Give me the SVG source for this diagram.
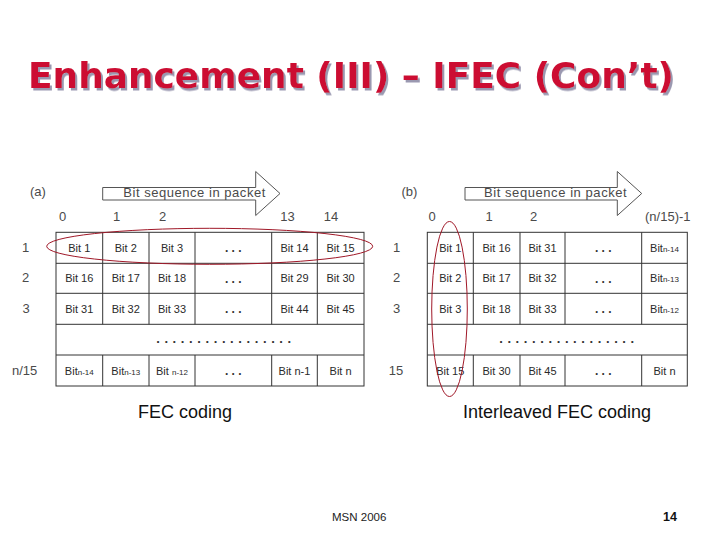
<svg xmlns="http://www.w3.org/2000/svg" width="720" height="540" viewBox="0 0 720 540">
<defs>
<filter id="shadow" x="-5%" y="-20%" width="110%" height="150%">
<feDropShadow dx="2" dy="2.5" stdDeviation="0.6" flood-color="#9a98b0" flood-opacity="1"/>
</filter>
</defs>
<style>
.title{font-family:"Comic Sans MS","DejaVu Sans",sans-serif;font-weight:bold;font-size:36px}
.cell{font-family:"Liberation Sans",Arial,sans-serif;font-size:11px;fill:#2a2a2a;text-anchor:middle}
.sub{font-size:8px}
.lab{font-family:"Liberation Sans",Arial,sans-serif;font-size:13px;fill:#4a4a4a}
.mid{text-anchor:middle}
.cap{font-family:"Liberation Sans",Arial,sans-serif;font-size:18px;fill:#111}
.grid{fill:none;stroke:#333;stroke-width:1}
.arrow{fill:#fff;stroke:#555;stroke-width:1}
.ring{fill:none;stroke:#a01828;stroke-width:1}
.dots{font-family:"Liberation Sans",Arial,sans-serif;font-size:13px;font-weight:bold;fill:#333;text-anchor:middle;letter-spacing:4.6px}
.ell{font-family:"Liberation Sans",Arial,sans-serif;font-size:12px;font-weight:bold;fill:#333;text-anchor:middle}
</style>
<rect width="720" height="540" fill="#fff"/>
<g id="title">
<text class="title" x="28" y="88" fill="#cc1133" filter="url(#shadow)" textLength="646" lengthAdjust="spacingAndGlyphs">Enhancement (III) – IFEC (Con’t)</text>
</g>
<g id="arrows">
<polygon id="arrow-a" class="arrow" points="102.7,187.5 255.7,187.5 255.7,171.5 280,193.5 255.7,215.5 255.7,200 102.7,200"/>
<text class="lab" x="123.3" y="197" textLength="142" lengthAdjust="spacing">Bit sequence in packet</text>
<polygon id="arrow-b" class="arrow" points="465,187.5 617.3,187.5 617.3,171.5 641.7,193.5 617.3,215.5 617.3,200 465,200"/>
<text class="lab" x="484" y="197" textLength="142.7" lengthAdjust="spacing">Bit sequence in packet</text>
</g>
<g id="table-a">
<text class="lab" x="30" y="196">(a)</text>
<text class="lab mid" x="62.5" y="221">0</text>
<text class="lab mid" x="116.5" y="221">1</text>
<text class="lab mid" x="162.5" y="221">2</text>
<text class="lab mid" x="287.5" y="221">13</text>
<text class="lab mid" x="331" y="221">14</text>
<text class="lab mid" x="25.5" y="251.5">1</text>
<text class="lab mid" x="25.5" y="282">2</text>
<text class="lab mid" x="26" y="312.5">3</text>
<text class="lab" x="12" y="375">n/15</text>
<rect class="grid" x="56" y="232.3" width="308" height="153.7"/>
<path class="grid" d="M56,263.3H364M56,293.3H364M56,324.3H364M56,355H364M102.7,232.3V324.3M149,232.3V324.3M195,232.3V324.3M271.7,232.3V324.3M317.3,232.3V324.3M102.7,355V386M149,355V386M195,355V386M271.7,355V386M317.3,355V386"/>
<text class="cell" x="79.3" y="251.5">Bit 1</text>
<text class="cell" x="125.8" y="251.5">Bit 2</text>
<text class="cell" x="172" y="251.5">Bit 3</text>
<text class="ell" x="233.3" y="252">. . .</text>
<text class="cell" x="294.5" y="251.5">Bit 14</text>
<text class="cell" x="340.6" y="251.5">Bit 15</text>
<text class="cell" x="79.3" y="282">Bit 16</text>
<text class="cell" x="125.8" y="282">Bit 17</text>
<text class="cell" x="172" y="282">Bit 18</text>
<text class="ell" x="233.3" y="282.5">. . .</text>
<text class="cell" x="294.5" y="282">Bit 29</text>
<text class="cell" x="340.6" y="282">Bit 30</text>
<text class="cell" x="79.3" y="312.5">Bit 31</text>
<text class="cell" x="125.8" y="312.5">Bit 32</text>
<text class="cell" x="172" y="312.5">Bit 33</text>
<text class="ell" x="233.3" y="313">. . .</text>
<text class="cell" x="294.5" y="312.5">Bit 44</text>
<text class="cell" x="340.6" y="312.5">Bit 45</text>
<text class="dots" x="226" y="343">.................</text>
<text class="cell" x="79.3" y="374.5">Bit<tspan class="sub">n-14</tspan></text>
<text class="cell" x="125.8" y="374.5">Bit<tspan class="sub">n-13</tspan></text>
<text class="cell" x="172" y="374.5">Bit <tspan class="sub">n-12</tspan></text>
<text class="ell" x="233.3" y="375">. . .</text>
<text class="cell" x="294.5" y="374.5">Bit n-1</text>
<text class="cell" x="340.6" y="374.5">Bit n</text>
</g>
<g id="table-b">
<text class="lab" x="401.5" y="196">(b)</text>
<text class="lab mid" x="432" y="221">0</text>
<text class="lab mid" x="489" y="221">1</text>
<text class="lab mid" x="533.5" y="221">2</text>
<text class="lab" x="645" y="221">(n/15)-1</text>
<text class="lab mid" x="396.5" y="251.5">1</text>
<text class="lab mid" x="396.5" y="282">2</text>
<text class="lab mid" x="396.5" y="312.5">3</text>
<text class="lab mid" x="396" y="375">15</text>
<rect class="grid" x="427.3" y="232.3" width="260" height="153.7"/>
<path class="grid" d="M427.3,263.3H687.3M427.3,293.3H687.3M427.3,324.3H687.3M427.3,355H687.3M473.3,232.3V324.3M520,232.3V324.3M565,232.3V324.3M641.7,232.3V324.3M473.3,355V386M520,355V386M565,355V386M641.7,355V386"/>
<text class="cell" x="450.3" y="251.5">Bit 1</text>
<text class="cell" x="496.6" y="251.5">Bit 16</text>
<text class="cell" x="542.5" y="251.5">Bit 31</text>
<text class="ell" x="603.3" y="252">. . .</text>
<text class="cell" x="664.5" y="251.5">Bit<tspan class="sub">n-14</tspan></text>
<text class="cell" x="450.3" y="282">Bit 2</text>
<text class="cell" x="496.6" y="282">Bit 17</text>
<text class="cell" x="542.5" y="282">Bit 32</text>
<text class="ell" x="603.3" y="282.5">. . .</text>
<text class="cell" x="664.5" y="282">Bit<tspan class="sub">n-13</tspan></text>
<text class="cell" x="450.3" y="312.5">Bit 3</text>
<text class="cell" x="496.6" y="312.5">Bit 18</text>
<text class="cell" x="542.5" y="312.5">Bit 33</text>
<text class="ell" x="603.3" y="313">. . .</text>
<text class="cell" x="664.5" y="312.5">Bit<tspan class="sub">n-12</tspan></text>
<text class="dots" x="569" y="343">.................</text>
<text class="cell" x="450.3" y="374.5">Bit 15</text>
<text class="cell" x="496.6" y="374.5">Bit 30</text>
<text class="cell" x="542.5" y="374.5">Bit 45</text>
<text class="ell" x="603.3" y="375">. . .</text>
<text class="cell" x="664.5" y="374.5">Bit n</text>
</g>
<g id="highlights">
<ellipse class="ring" cx="209.7" cy="246.3" rx="163" ry="18"/>
<ellipse class="ring" cx="449.5" cy="309" rx="17.8" ry="87.5"/>
</g>
<g id="captions">
<text class="cap" x="138" y="418">FEC coding</text>
<text class="cap" x="463" y="418">Interleaved FEC coding</text>
<text x="332" y="521" font-family="Liberation Sans, Arial, sans-serif" font-size="11.5" fill="#222">MSN 2006</text>
<text x="677" y="521" font-family="Liberation Sans, Arial, sans-serif" font-size="12.5" font-weight="bold" fill="#111" text-anchor="end">14</text>
</g>
</svg>
